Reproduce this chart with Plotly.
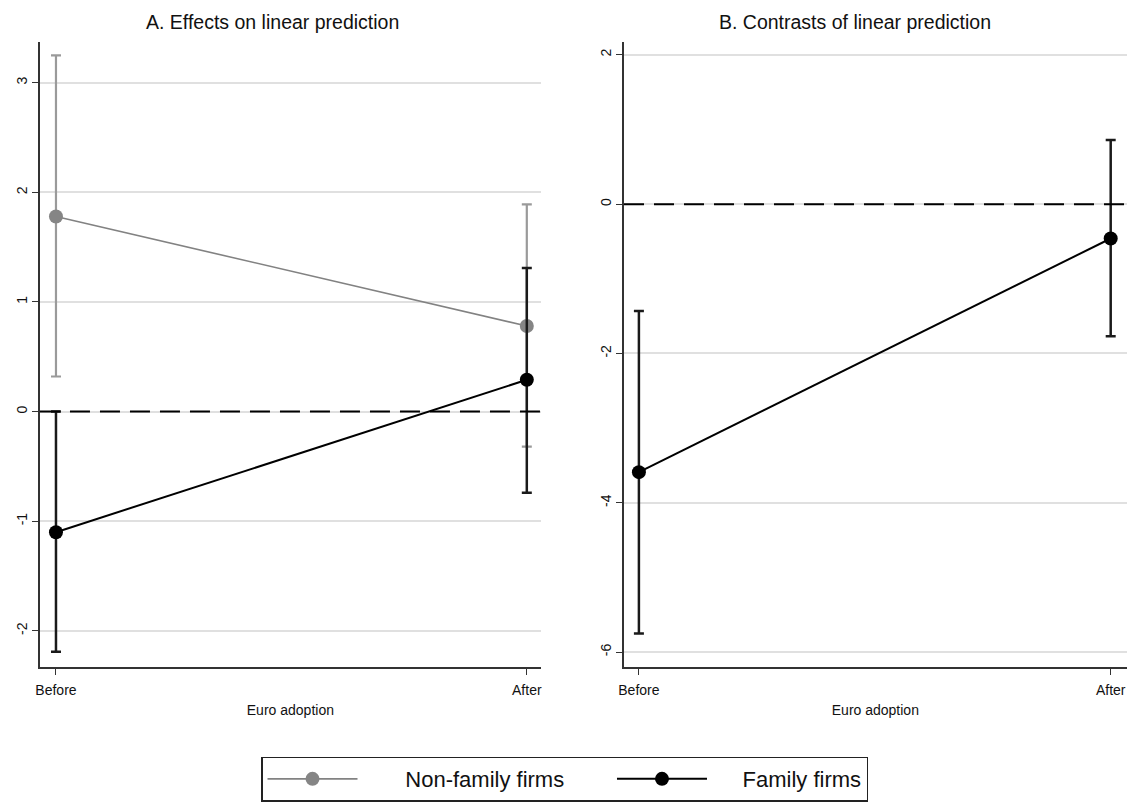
import plotly.graph_objects as go

periods = ["Before", "After"]
x_pos = [0, 1]

# Panel A: effects on linear prediction
nonfam_est = [1.78, 0.78]
nonfam_lo = [0.32, -0.32]
nonfam_hi = [3.25, 1.89]
fam_est = [-1.10, 0.29]
fam_lo = [-2.19, -0.74]
fam_hi = [0.00, 1.31]

# Panel B: contrasts of linear prediction
con_est = [-3.59, -0.46]
con_lo = [-5.75, -1.77]
con_hi = [-1.43, 0.86]

yticks_a = [-2, -1, 0, 1, 2, 3]
yticks_b = [-6, -4, -2, 0, 2]

FONT = "Liberation Sans Narrow, Liberation Sans, Arial, sans-serif"
GRAY = "#828282"
BLACK = "#000000"
NB = "\u00a0"

def err(est, lo, hi):
    return dict(type="data", symmetric=False,
                array=[h - e for h, e in zip(hi, est)],
                arrayminus=[e - l for e, l in zip(est, lo)])

fig = go.Figure()

e = err(nonfam_est, nonfam_lo, nonfam_hi)
e.update(color="#9a9a9a", thickness=2.2, width=5)
fig.add_trace(go.Scatter(x=x_pos, y=nonfam_est, mode="lines+markers",
                         name=NB * 7 + "Non-family firms" + NB * 7,
                         line=dict(color=GRAY, width=1.6), marker=dict(color="#858585", size=14),
                         error_y=e, xaxis="x", yaxis="y"))
e = err(fam_est, fam_lo, fam_hi)
e.update(color="#1a1a1a", thickness=2.5, width=5)
fig.add_trace(go.Scatter(x=x_pos, y=fam_est, mode="lines+markers",
                         name=NB * 5 + "Family firms",
                         line=dict(color=BLACK, width=2), marker=dict(color=BLACK, size=14),
                         error_y=e, xaxis="x", yaxis="y"))
e = err(con_est, con_lo, con_hi)
e.update(color="#1a1a1a", thickness=2.5, width=5)
fig.add_trace(go.Scatter(x=x_pos, y=con_est, mode="lines+markers", name="Family firms",
                         line=dict(color=BLACK, width=2), marker=dict(color=BLACK, size=14),
                         error_y=e, xaxis="x2", yaxis="y2", showlegend=False))

for xr, yr in (("x", "y"), ("x2", "y2")):
    fig.add_shape(type="line", xref=f"{xr} domain", yref=yr, x0=0, x1=1, y0=0, y1=0,
                  line=dict(color=BLACK, width=2, dash="20px,10px"), layer="above")

ax_common = dict(showline=True, linecolor="#333333", linewidth=1.5, ticks="outside",
                 ticklen=6, tickcolor="#333333", tickfont=dict(family=FONT, size=14, color="#111"),
                 zeroline=False, automargin=False)
xcommon = dict(ax_common, showgrid=False, tickvals=x_pos, ticktext=periods, ticklabelstandoff=3,
               title=dict(text="Euro adoption", font=dict(family=FONT, size=14, color="#111"), standoff=9))
ycommon = dict(ax_common, showgrid=True, gridcolor="#e0e0e0", gridwidth=1.5, tickangle=-90)

fig.update_layout(
    width=1129, height=810,
    margin=dict(l=0, r=0, t=0, b=0, autoexpand=False),
    paper_bgcolor="white", plot_bgcolor="white",
    font=dict(family=FONT, color="#111"),
    xaxis=dict(xcommon, domain=[0.0354, 0.479], range=[-0.034, 1.0297], anchor="y"),
    yaxis=dict(ycommon, domain=[0.1765, 0.948], range=[-2.33, 3.37], tickvals=yticks_a,
               ticktext=[str(v) for v in yticks_a], anchor="x"),
    xaxis2=dict(xcommon, domain=[0.5527, 0.998], range=[-0.0316, 1.034], anchor="y2"),
    yaxis2=dict(ycommon, domain=[0.1765, 0.948], range=[-6.2, 2.17], tickvals=yticks_b,
                ticktext=[str(v) for v in yticks_b], anchor="x2"),
    showlegend=True,
    legend=dict(orientation="h", x=0.5, xanchor="center", y=0.066, yanchor="top",
                bordercolor="#222", borderwidth=1.5, font=dict(family=FONT, size=22, color="#111"),
                itemwidth=90, bgcolor="white"),
    annotations=[
        dict(text="A. Effects on linear prediction", x=0.241, y=0.973, xref="paper", yref="paper",
             xanchor="center", showarrow=False, font=dict(family=FONT, size=19.5, color="#111"),
             yanchor="middle"),
        dict(text="B. Contrasts of linear prediction", x=0.757, y=0.973, xref="paper", yref="paper",
             xanchor="center", showarrow=False, font=dict(family=FONT, size=19.5, color="#111"),
             yanchor="middle"),
    ],
)

fig.write_html("out.html", config={"displayModeBar": False},
               post_script="document.body.style.margin='0';document.body.style.overflow='hidden';")
